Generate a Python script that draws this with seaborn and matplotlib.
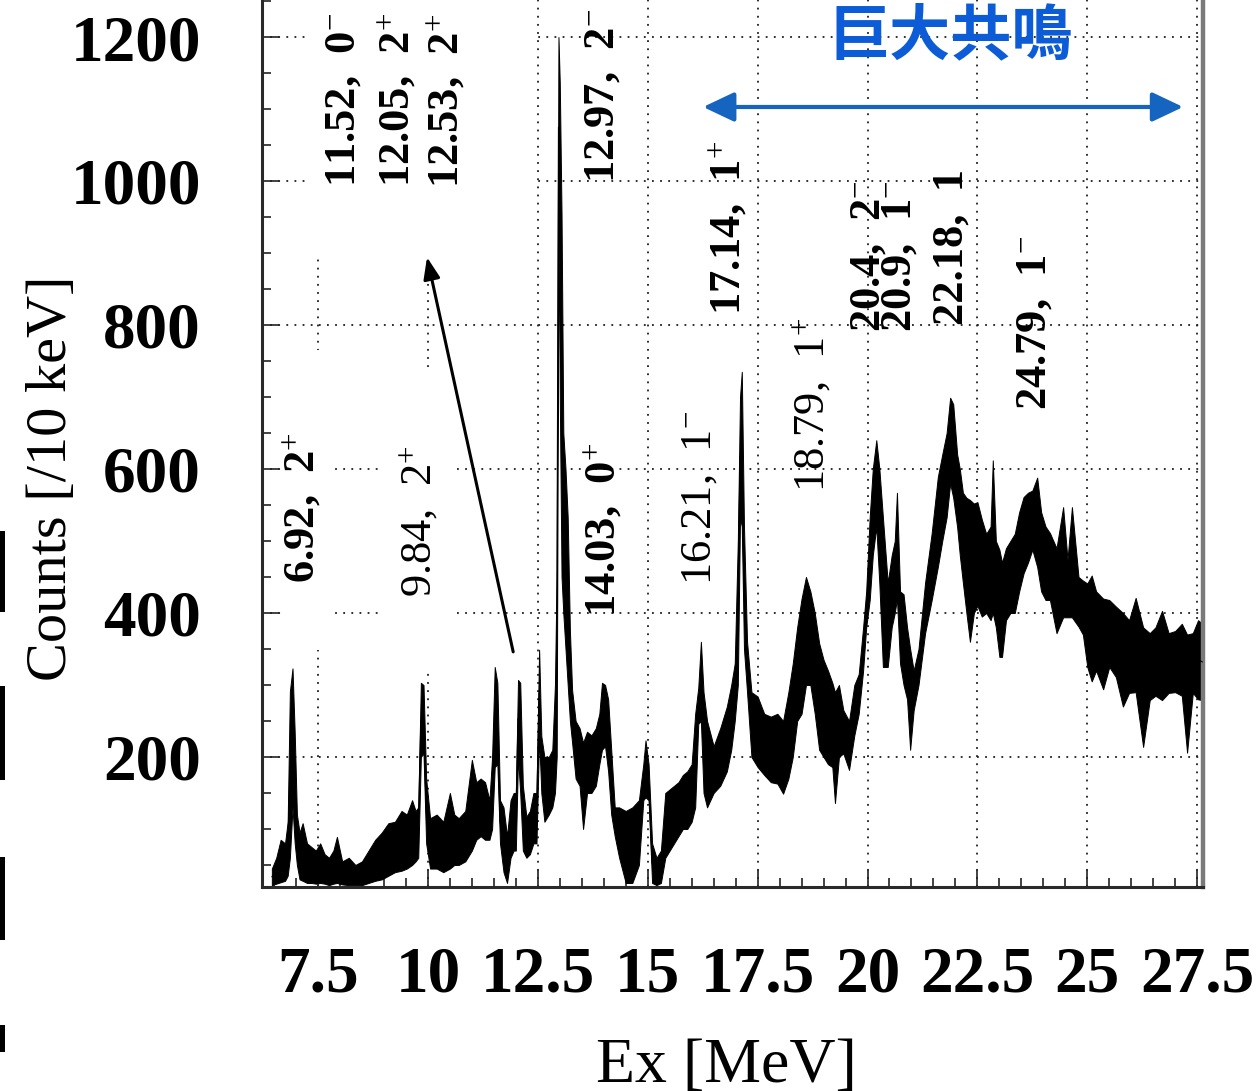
import numpy as np
import pandas as pd
import matplotlib
matplotlib.use("Agg")
import matplotlib.pyplot as plt
from matplotlib.patches import Rectangle
from matplotlib.ticker import MultipleLocator
import seaborn as sns

# Excitation-energy spectrum, counts per 10 keV bin: lower / upper envelope of the
# bin-to-bin fluctuation at each energy.
ex_mev = [
    6.45, 6.55, 6.65, 6.75, 6.81, 6.86, 6.92, 6.97, 7.02, 7.08,
    7.15, 7.25, 7.35, 7.45, 7.55, 7.65, 7.75, 7.85, 7.93, 8.05,
    8.2, 8.35, 8.5, 8.65, 8.8, 8.95, 9.1, 9.25, 9.4, 9.52,
    9.64, 9.72, 9.78, 9.84, 9.9, 9.96, 10.05, 10.2, 10.35, 10.5,
    10.6, 10.7, 10.85, 11.0, 11.1, 11.2, 11.3, 11.4, 11.46, 11.52,
    11.58, 11.64, 11.72, 11.8, 11.88, 11.95, 12.0, 12.05, 12.1, 12.16,
    12.24, 12.32, 12.4, 12.47, 12.53, 12.58, 12.65, 12.75, 12.83, 12.89,
    12.93, 12.97, 13.0, 13.04, 13.08, 13.13, 13.18, 13.23, 13.28, 13.36,
    13.45, 13.53, 13.62, 13.72, 13.82, 13.9, 13.96, 14.03, 14.1, 14.17,
    14.25, 14.35, 14.5, 14.65, 14.8, 14.9, 14.95, 15.02, 15.1, 15.2,
    15.3, 15.4, 15.5, 15.6, 15.7, 15.8, 15.9, 16.0, 16.08, 16.15,
    16.21, 16.27, 16.35, 16.5, 16.65, 16.8, 16.9, 16.98, 17.05, 17.1,
    17.14, 17.19, 17.26, 17.36, 17.5, 17.65, 17.8, 17.95, 18.08, 18.2,
    18.3, 18.4, 18.5, 18.6, 18.7, 18.8, 18.9, 19.0, 19.1, 19.2,
    19.26, 19.35, 19.45, 19.58, 19.7, 19.8, 19.9, 19.97, 20.05, 20.12,
    20.2, 20.27, 20.35, 20.46, 20.55, 20.62, 20.67, 20.74, 20.82, 20.9,
    20.97, 21.05, 21.16, 21.31, 21.46, 21.6, 21.7, 21.8, 21.88, 21.95,
    22.04, 22.1, 22.17, 22.25, 22.33, 22.42, 22.5, 22.6, 22.7, 22.8,
    22.85, 22.92, 23.0, 23.06, 23.15, 23.25, 23.35, 23.45, 23.55, 23.65,
    23.75, 23.86, 23.95, 24.05, 24.15, 24.3, 24.45, 24.55, 24.65, 24.8,
    24.9, 25.0, 25.1, 25.2, 25.36, 25.5, 25.65, 25.81, 25.95, 26.1,
    26.27, 26.42, 26.55, 26.7, 26.85, 27.0, 27.15, 27.27, 27.4, 27.52,
    27.62,
]
counts_low = [
    22, 24, 26, 28, 35, 60, 130, 80, 50, 30,
    28, 25, 25, 24, 25, 24, 22, 24, 25, 23,
    22, 22, 22, 25, 28, 30, 35, 40, 42, 45,
    50, 55, 60, 200, 205, 80, 45, 45, 40, 45,
    50, 50, 55, 70, 85, 90, 85, 85, 100, 186,
    190, 80, 40, 25, 60, 70, 70, 200, 150, 70,
    60, 65, 80, 80, 229, 150, 110, 120, 130, 150,
    200, 950, 700, 450, 400, 350, 300, 250, 220, 170,
    160, 100, 150, 150, 160, 190, 210, 215, 180, 120,
    90, 60, 25, 25, 50, 140, 144, 140, 25, 22,
    25, 60, 70, 80, 90, 100, 100, 110, 130, 246,
    250, 150, 130, 150, 160, 180, 210, 250, 300, 533,
    520, 350, 290, 200, 186, 175, 165, 163, 149, 170,
    200, 250, 260, 300, 300, 260, 210, 200, 190, 186,
    136, 200, 205, 182, 230, 260, 320, 380, 418, 480,
    520, 440, 325, 325, 380, 400, 420, 330, 300, 280,
    210, 265, 300, 372, 418, 464, 500, 533, 580, 560,
    519, 480, 442, 400, 360, 400, 410, 395, 400, 390,
    400, 380, 339, 339, 390, 400, 400, 430, 455, 470,
    488, 464, 430, 418, 418, 372, 394, 394, 394, 381,
    370, 325, 305, 320, 294, 325, 311, 270, 289, 290,
    214, 279, 285, 279, 289, 290, 285, 206, 289, 280,
    279,
]
counts_high = [
    45, 60, 85, 80, 110, 291, 323, 234, 120, 95,
    108, 80, 75, 70, 80, 65, 60, 70, 89, 55,
    60, 50, 55, 70, 85, 95, 108, 110, 125, 120,
    140, 125, 130, 303, 300, 170, 115, 120, 110, 150,
    120, 115, 125, 196, 165, 170, 165, 140, 200, 325,
    303, 140, 130, 90, 140, 150, 150, 307, 303, 160,
    117, 125, 150, 150, 349, 229, 200, 200, 210, 300,
    460, 1200, 1136, 953, 650, 600, 533, 376, 293, 250,
    240, 220, 235, 230, 240, 260, 303, 300, 280, 210,
    130, 130, 125, 130, 140, 190, 223, 190, 80, 60,
    70, 150, 155, 160, 165, 175, 180, 190, 260, 296,
    360, 290, 250, 215, 240, 270, 300, 330, 500, 700,
    735, 520, 360, 290, 284, 260, 256, 260, 250, 290,
    330, 380, 420, 450, 430, 400, 358, 335, 320, 303,
    290, 300, 265, 250, 300, 315, 380, 430, 533, 600,
    640, 600, 533, 442, 480, 500, 567, 430, 426, 380,
    350, 320, 350, 442, 511, 589, 620, 650, 699, 690,
    620, 600, 567, 560, 557, 552, 554, 530, 510, 520,
    612, 500, 488, 470, 490, 500, 510, 540, 561, 567,
    570, 588, 540, 520, 511, 490, 547, 474, 547, 450,
    445, 441, 452, 430, 420, 418, 409, 400, 390, 421,
    380, 372, 380, 403, 372, 375, 385, 370, 372, 390,
    385,
]

# Level annotations (energy [MeV], spin-parity)
level_text = [
    "6.92,  2$^{+}$", "9.84,  2$^{+}$", "11.52,  0$^{-}$", "12.05,  2$^{+}$",
    "12.53,  2$^{+}$", "12.97,  2$^{-}$", "14.03,  0$^{+}$", "16.21,  1$^{-}$",
    "17.14,  1$^{+}$", "18.79,  1$^{+}$", "20.4,  2$^{-}$", "20.9,  1$^{-}$",
    "22.18,  1", "24.79,  1$^{-}$",
]
level_x = [7.14, 9.82, 8.09, 9.32, 10.43, 13.98, 14.0, 16.19,
           16.83, 18.74, 20.03, 20.74, 21.92, 23.81]
level_y = [442, 422, 992, 992, 990, 997, 394, 439,
           814, 568, 790, 790, 800, 682]
level_weight = ["bold", "normal", "bold", "bold", "bold", "bold", "bold", "normal",
                "bold", "normal", "bold", "bold", "bold", "bold"]

xticks = [7.5, 10, 12.5, 15, 17.5, 20, 22.5, 25, 27.5]
xtick_labels = ["7.5", "10", "12.5", "15", "17.5", "20", "22.5", "25", "27.5"]
yticks = [200, 400, 600, 800, 1000, 1200]

sns.set_theme(style="ticks")
plt.rcParams["font.family"] = ["Liberation Serif", "DejaVu Serif"]
plt.rcParams["mathtext.fontset"] = "custom"
plt.rcParams["mathtext.rm"] = "Liberation Serif"
plt.rcParams["mathtext.it"] = "Liberation Serif:italic"
plt.rcParams["mathtext.bf"] = "Liberation Serif:bold"

W, H = 1258, 1091
fig = plt.figure(figsize=(W / 100, H / 100), dpi=100)
fig.patch.set_facecolor("white")
ax = fig.add_axes([262 / W, 1 - 887 / H, (1203 - 262) / W, 887 / H])
ax.set_facecolor("white")

# Spectrum band (min..max of the envelope at each energy)
spec = pd.DataFrame({
    "Ex": ex_mev + ex_mev,
    "Counts": counts_low + counts_high,
})
sns.lineplot(data=spec, x="Ex", y="Counts", estimator="mean",
             errorbar=("pi", 100), color="black", linewidth=0.8,
             err_kws=dict(alpha=1.0, facecolor="black", edgecolor="black",
                          linewidth=0.7),
             ax=ax, zorder=3)

ax.set_xlim(6.226, 27.632)
ax.set_ylim(19.4, 1251.4)
ax.set_xlabel("")
ax.set_ylabel("")

# Dotted grid, interrupted by the white label panels
ax.set_axisbelow(True)
ax.grid(True, which="major", color="#1e1e1e", linewidth=1.3, linestyle=(0, (1, 3.5)))
panel_kw = dict(facecolor="white", edgecolor="none", zorder=1)
ax.add_patch(Rectangle((7.20, 893), 12.39 - 7.20, 400, **panel_kw))
ax.add_patch(Rectangle((6.66, 349), 7.89 - 6.66, 765 - 349, **panel_kw))
ax.add_patch(Rectangle((8.91, 321), 10.55 - 8.91, 742 - 321, **panel_kw))

# Axes, ticks
ax.set_xticks(xticks, labels=xtick_labels)
ax.set_yticks(yticks)
ax.xaxis.set_minor_locator(MultipleLocator(0.5))
ax.yaxis.set_minor_locator(MultipleLocator(50))
ax.tick_params(which="both", direction="in", top=False, right=False,
               width=1.2, color="#222222")
ax.tick_params(which="major", length=12)
ax.tick_params(which="minor", length=6.5)
ax.tick_params(axis="x", which="major", pad=42, labelsize=47)
ax.tick_params(axis="y", which="major", pad=44, labelsize=47)
for lbl in ax.get_xticklabels() + ax.get_yticklabels():
    lbl.set_fontweight("bold")
    lbl.set_color("black")

ax.spines["top"].set_visible(False)
for side in ("left", "bottom"):
    ax.spines[side].set_linewidth(2.2)
    ax.spines[side].set_color("#2a2a2a")
ax.spines["right"].set_linewidth(3.2)
ax.spines["right"].set_color("#7a7a7a")

# Level labels
for s, x, y, w in zip(level_text, level_x, level_y, level_weight):
    ax.text(x, y, s, rotation=90, ha="center", va="bottom", fontsize=32,
            fontweight=w, color="black", zorder=4)

# Arrow pointing to the 11.5-12.5 MeV group
ax.annotate("", xy=(9.98, 894), xytext=(11.94, 346),
            arrowprops=dict(arrowstyle="-|>,head_length=0.65,head_width=0.25",
                            mutation_scale=20, color="black", lw=2.2,
                            shrinkA=0, shrinkB=0), zorder=4)

# Giant resonance region
blue = "#1565c0"
ax.annotate("", xy=(27.18, 1102.8), xytext=(16.26, 1102.8),
            arrowprops=dict(arrowstyle="<|-|>,head_length=0.95,head_width=0.45",
                            mutation_scale=20, color=blue, lw=3,
                            shrinkA=0, shrinkB=0), zorder=5)
ax.text(21.90, 1201, "巨大共鳴", ha="center", va="center", fontsize=44,
        fontweight="bold", color="#0b5cd6",
        family=["Noto Sans CJK JP", "DejaVu Sans"], zorder=5)

# Axis titles
fig.text(52 / W, 1 - 478 / H, "Counts [/10 keV]", rotation=90,
         ha="center", va="center", fontsize=42, color="black")
fig.text(726 / W, 1 - 1082 / H, "Ex [MeV]", ha="center", va="baseline",
         fontsize=46, color="black")

# Edge marks along the left border
for top, bottom in [(531, 612), (686, 780), (857, 940), (1025, 1052)]:
    fig.patches.append(Rectangle((0, 1 - bottom / H), 5 / W, (bottom - top) / H,
                                 transform=fig.transFigure, facecolor="black",
                                 edgecolor="none"))

fig.savefig("out.png", dpi=100, facecolor="white")
